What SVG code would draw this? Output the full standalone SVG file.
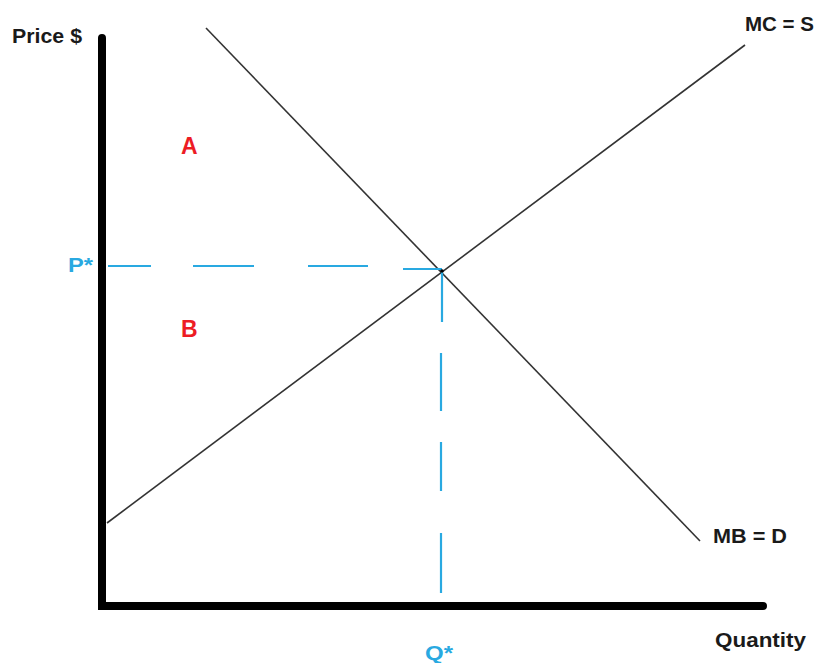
<svg xmlns="http://www.w3.org/2000/svg" width="818" height="663" viewBox="0 0 818 663">
<style>
.lbl{font-family:"Liberation Sans",Arial,sans-serif;font-weight:bold;}
.blk{fill:#1a1a1a;font-size:21px;}
.blu{fill:#29a9e1;font-size:21px;}
.red{fill:#ed1c24;font-size:23px;}
.curve{stroke:#333;stroke-width:1.6;fill:none;}
.dash{stroke:#29a9e1;stroke-width:2.2;fill:none;}
.axis{stroke:#000;stroke-width:8;fill:none;stroke-linecap:round;}
</style>
<rect width="818" height="663" fill="#fff"/>
<g id="axes">
<path class="axis" d="M102,38 L102,606 L763,606" stroke-linejoin="miter"/>
</g>
<g id="connectors">
<line id="mc" class="curve" x1="107" y1="523" x2="745" y2="45"/>
<line id="mb" class="curve" x1="206" y1="28" x2="700" y2="541"/>
<g id="pstar-line">
<line class="dash" x1="108" y1="266" x2="151" y2="266"/>
<line class="dash" x1="193" y1="266" x2="254" y2="266"/>
<line class="dash" x1="308" y1="266" x2="368" y2="266"/>
<line class="dash" x1="403" y1="269" x2="442" y2="269"/>
</g>
<g id="qstar-line">
<line class="dash" x1="442" y1="270" x2="442" y2="322"/>
<line class="dash" x1="441" y1="353" x2="441" y2="411"/>
<line class="dash" x1="441" y1="442" x2="441" y2="491"/>
<line class="dash" x1="441" y1="533" x2="441" y2="593"/>
</g>
<circle cx="442" cy="271" r="1.8" fill="#000"/>
</g>
<g id="label-price"><text class="lbl blk" x="12" y="43" textLength="70" lengthAdjust="spacingAndGlyphs">Price $</text></g>
<g id="label-mc"><text class="lbl blk" x="745" y="31" textLength="69" lengthAdjust="spacingAndGlyphs">MC = S</text></g>
<g id="label-mb"><text class="lbl blk" x="713" y="543" textLength="74" lengthAdjust="spacingAndGlyphs">MB = D</text></g>
<g id="label-quantity"><text class="lbl blk" x="715" y="647" textLength="91" lengthAdjust="spacingAndGlyphs">Quantity</text></g>
<g id="label-q"><text class="lbl blu" x="425" y="660" textLength="28" lengthAdjust="spacingAndGlyphs">Q*</text></g>
<g id="label-p"><text class="lbl blu" x="68" y="272" textLength="25" lengthAdjust="spacingAndGlyphs">P*</text></g>
<g id="label-a"><text class="lbl red" x="181" y="154">A</text></g>
<g id="label-b"><text class="lbl red" x="181" y="337">B</text></g>
</svg>
